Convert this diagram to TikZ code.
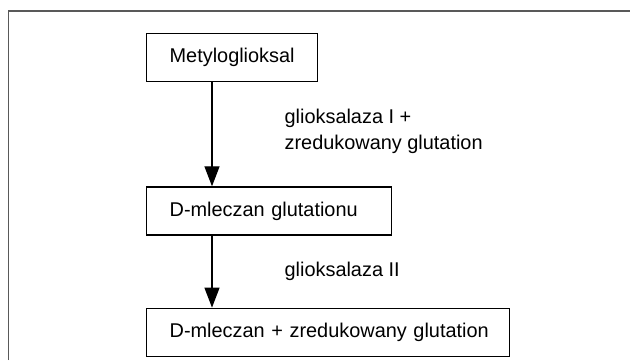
\documentclass[tikz,border=0pt]{standalone}
\usepackage{fontspec}
\setmainfont{Liberation Sans}
\usepackage{tikz}
\usetikzlibrary{
	arrows.meta,
	positioning
}

\begin{document}
\begin{tikzpicture}[x=1pt,y=-1pt,
		font=\fontsize{19.9}{26}\selectfont,
		box/.style={draw=black,line width=1.3pt,inner xsep=23pt,minimum height=48pt,align=left},
		arr/.style={line width=1.3pt,-{Triangle[length=20pt,width=15pt,fill=black]}}]
		\useasboundingbox (0,0) rectangle (630,360);
		\draw[black!65,line width=1.3pt] (8.5,360) -- (8.5,11) -- (630,11);

		\node[box,anchor=north west,text width=125pt] (methyl) at (146,33)
			{\mbox{Metyloglioksal}};
		\node[box,below right=104pt and 0pt of methyl.south west,text width=199pt] (sdlg)
			{\mbox{D-mleczan glutationu}};
		\node[box,below right=72pt and 0pt of sdlg.south west,text width=317pt] (dlac)
			{\mbox{D-mleczan + zredukowany glutation}};

		\draw[arr] ([xshift=66pt]methyl.south west) -- ([xshift=66pt]sdlg.north west)
			node[midway,right=72pt,yshift=3pt,inner sep=0pt,align=left] (glo1)
			{glioksalaza I +\\zredukowany glutation};
		\draw[arr] ([xshift=66pt]sdlg.south west) -- ([xshift=66pt]dlac.north west)
			node[midway,right=72pt,inner sep=0pt] (glo2) {glioksalaza II};
	\end{tikzpicture}
\end{document}
